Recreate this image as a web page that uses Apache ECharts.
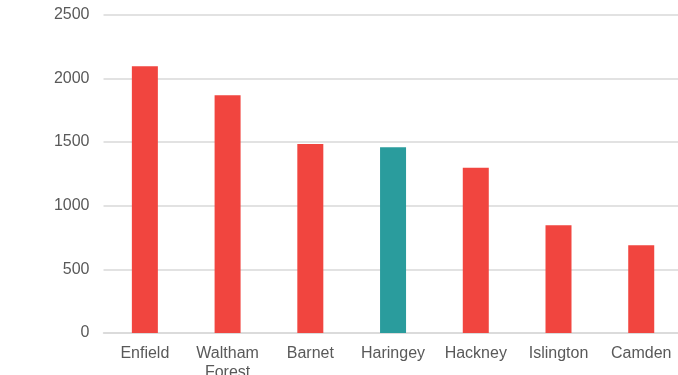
<!DOCTYPE html>
<html><head><meta charset="utf-8">
<script src="https://cdn.jsdelivr.net/npm/echarts@6/dist/echarts.min.js"></script>
<style>html,body{margin:0;padding:0;background:#fff}#c{width:678px;height:375px}</style>
</head><body><div id="c"></div>
<script>
const categories = ['Enfield', 'Waltham\nForest', 'Barnet', 'Haringey', 'Hackney', 'Islington', 'Camden'];
const values = [2095, 1866, 1484, 1458, 1298, 846, 689];
const highlight = 'Haringey';
const yTicks = [0, 500, 1000, 1500, 2000, 2500];

const red = '#F1453F', teal = '#2A9C9D';
const chart = echarts.init(document.getElementById('c'), null, {renderer: 'canvas'});
chart.setOption({
  animation: false,
  grid: {left: 103.5, right: -4.6, top: 14.6, bottom: 42, containLabel: false, outerBoundsMode: 'none'},
  xAxis: {
    type: 'category', data: categories,
    axisLine: {show: true, lineStyle: {color: '#d9d9d9', width: 1.5}},
    axisTick: {show: false},
    axisLabel: {color: '#595959', fontSize: 16, fontFamily: 'Liberation Sans, Arial', lineHeight: 19, margin: 11, interval: 0}
  },
  yAxis: {
    type: 'value', min: yTicks[0], max: yTicks[yTicks.length - 1], interval: 500,
    axisLine: {show: false}, axisTick: {show: false},
    splitLine: {lineStyle: {color: '#d9d9d9', width: 1.5}},
    axisLabel: {color: '#595959', fontSize: 16, fontFamily: 'Liberation Sans, Arial', margin: 14, formatter: v => String(v)}
  },
  series: [{
    type: 'bar', barWidth: 26,
    data: values.map((v, i) => ({value: v, itemStyle: {color: categories[i] === highlight ? teal : red}}))
  }]
});
</script></body></html>
